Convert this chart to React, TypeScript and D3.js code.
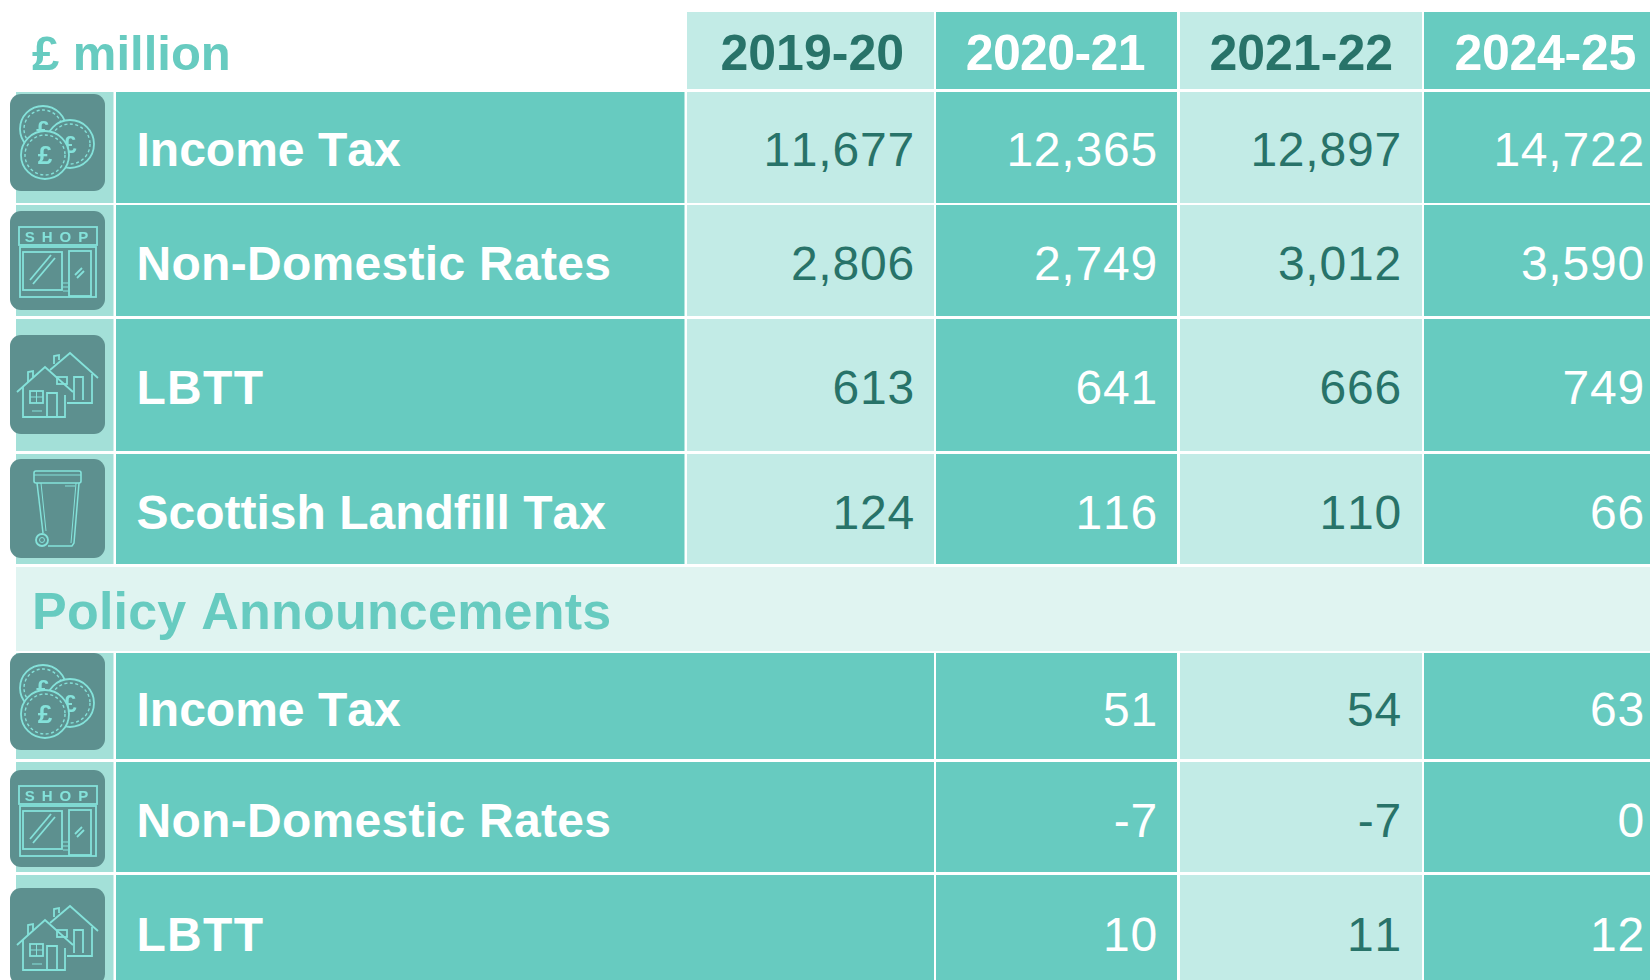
import React, { useEffect, useRef } from 'react'
import * as d3 from 'd3'

const years = ['2019-20', '2020-21', '2021-22', '2024-25']
const unitLabel = '£ million'
const policyTitle = 'Policy Announcements'

const forecastRows = ['Income Tax', 'Non-Domestic Rates', 'LBTT', 'Scottish Landfill Tax']
const forecastIcons = ['coins', 'shop', 'houses', 'bin']
const incomeTax = [11677, 12365, 12897, 14722]
const nonDomesticRates = [2806, 2749, 3012, 3590]
const lbtt = [613, 641, 666, 749]
const landfillTax = [124, 116, 110, 66]

const policyRows = ['Income Tax', 'Non-Domestic Rates', 'LBTT']
const policyIcons = ['coins', 'shop', 'houses']
const policyIncomeTax = [null, 51, 54, 63]
const policyNonDomesticRates = [null, -7, -7, 0]
const policyLbtt = [null, 10, 11, 12]

const forecastValues = [incomeTax, nonDomesticRates, lbtt, landfillTax]
const policyValues = [policyIncomeTax, policyNonDomesticRates, policyLbtt]

// layout, the table is not evenly spaced so the scales are ordinal
const rowKeys = ['f0', 'f1', 'f2', 'f3', 'p0', 'p1', 'p2']
const rowTop = d3.scaleOrdinal<string, number>().domain(rowKeys).range([92, 205, 319, 454, 653, 762, 875])
const rowBottom = d3.scaleOrdinal<string, number>().domain(rowKeys).range([203, 316, 451, 564, 759, 872, 985])
const rowBaseline = d3.scaleOrdinal<string, number>().domain(rowKeys).range([166, 280, 404, 529, 726, 837, 951])
const iconTop = d3.scaleOrdinal<string, number>().domain(rowKeys).range([94, 211, 335, 459, 653, 770, 888])
const iconHeight = d3.scaleOrdinal<string, number>().domain(rowKeys).range([97, 99, 99, 99, 97, 97, 97])

const colLeft = d3.scaleOrdinal<string, number>().domain(years).range([687, 936, 1180, 1424])
const colRight = d3.scaleOrdinal<string, number>().domain(years).range([934, 1177, 1422, 1650])
const colValueEnd = d3.scaleOrdinal<string, number>().domain(years).range([915, 1158, 1402, 1645])
const colHeadEnd = d3.scaleOrdinal<string, number>().domain(years).range([904, 1145, 1393, 1636])
const headSpacing = d3.scaleOrdinal<string, number>().domain(years).range([0, -0.6, 0, -0.3])

// the original's text is a touch looser than Liberation's metrics
const labelSpacing = d3.scaleOrdinal<string, number>().domain(forecastRows).range([0, 0.3, 1.3, 0])

const MAIN = '#67cbc0'
const LIGHT = '#c2ebe6'
const PALE = '#e0f4f1'
const ICON_COL = '#a3e0d8'
const ICON_BOX = '#5d908f'
const ICON_LINE = '#84e2da'
const DARK = '#287369'
const FONT = '"Liberation Sans", Arial, sans-serif'

const colFill = (i: number) => (i % 2 === 0 ? LIGHT : MAIN)
const colText = (i: number) => (i % 2 === 0 ? DARK : '#ffffff')
// table uses a plain hyphen for negatives
const fmt = d3.formatLocale({ decimal: '.', thousands: ',', grouping: [3], currency: ['£', ''], minus: '-' }).format(',')

function drawCoin(g, cx, cy, r, size) {
	g.append('circle').attr('cx', cx).attr('cy', cy).attr('r', r)
		.attr('fill', ICON_BOX).attr('stroke', ICON_LINE).attr('stroke-width', 1.8)
	g.append('circle').attr('cx', cx).attr('cy', cy).attr('r', r - 4)
		.attr('fill', 'none').attr('stroke', ICON_LINE).attr('stroke-width', 1.4).attr('stroke-dasharray', '3 2.5')
	g.append('text').attr('x', cx).attr('y', cy + size * 0.36)
		.attr('text-anchor', 'middle').attr('font-family', FONT).attr('font-weight', 'bold')
		.attr('font-size', size).attr('fill', ICON_LINE).text('£')
}

function drawIcon(g, name) {
	const line = d3.line()
	const path = (pts, w = 1.8) => g.append('path').attr('d', line(pts))
		.attr('fill', 'none').attr('stroke', ICON_LINE).attr('stroke-width', w)
	const box = (x, y, w, h) => g.append('rect').attr('x', x).attr('y', y).attr('width', w).attr('height', h)
		.attr('fill', 'none').attr('stroke', ICON_LINE).attr('stroke-width', 1.8)

	if (name === 'coins') {
		drawCoin(g, 33, 35, 23, 24)
		drawCoin(g, 60, 50, 24, 24)
		drawCoin(g, 35, 61, 24, 26)
	}
	if (name === 'shop') {
		box(9, 16, 78, 18)
		g.append('text').attr('x', 50).attr('y', 31).attr('text-anchor', 'middle')
			.attr('font-family', FONT).attr('font-weight', 'bold').attr('font-size', 15).attr('letter-spacing', 7)
			.attr('fill', ICON_LINE).text('SHOP')
		box(10, 36, 76, 50)
		box(13, 41, 39, 38)
		box(59, 40, 22, 45)
		path([[20, 69], [41, 44]])
		path([[23, 73], [45, 47]])
		path([[65, 64], [72, 57]])
		path([[67, 67], [74, 60]])
		path([[53, 72], [58, 72]], 1)
		path([[53, 76], [58, 76]], 1)
		path([[53, 80], [58, 80]], 1)
	}
	if (name === 'houses') {
		path([[40, 35], [60, 18], [88, 43]])
		path([[82, 39], [82, 68], [57, 68]])
		path([[64, 65], [64, 42], [73, 42], [73, 65]])
		path([[44, 29], [44, 21], [49, 20], [49, 25]])
		box(47, 42, 10, 7)
		path([[7, 57], [35, 32], [63, 57]])
		path([[13, 52], [13, 82], [55, 82], [55, 60]])
		box(20, 56, 13, 12)
		path([[26.5, 56], [26.5, 68]], 1)
		path([[20, 62], [33, 62]], 1)
		path([[37, 82], [37, 58], [47, 58], [47, 82]])
		path([[18, 47], [18, 37], [23, 36], [23, 42]])
		path([[22, 76], [32, 76]], 1)
	}
	if (name === 'bin') {
		g.append('rect').attr('x', 24).attr('y', 12).attr('width', 47).attr('height', 12).attr('rx', 2)
			.attr('fill', 'none').attr('stroke', ICON_LINE).attr('stroke-width', 1.6)
		path([[24, 16], [71, 16]], 1.2)
		path([[27, 24], [33, 74]], 1.5)
		path([[69, 24], [64, 84], [62, 87], [38, 87]], 1.5)
		path([[31, 24], [36, 72]], 1)
		path([[66, 24], [61, 84]], 1)
		path([[55, 27], [65, 27]], 1)
		g.append('circle').attr('cx', 32).attr('cy', 81).attr('r', 6)
			.attr('fill', 'none').attr('stroke', ICON_LINE).attr('stroke-width', 1.8)
		g.append('circle').attr('cx', 32).attr('cy', 81).attr('r', 2.5)
			.attr('fill', 'none').attr('stroke', ICON_LINE).attr('stroke-width', 1)
	}
}

export default function App() {
	const ref = useRef<SVGSVGElement>(null)

	useEffect(() => {
		const svg = d3.select(ref.current)
		svg.selectAll('*').remove()

		// icons in the original are soft, slightly upscaled images
		svg.append('defs').append('filter').attr('id', 'soft')
			.append('feGaussianBlur').attr('stdDeviation', 0.45)

		const rect = (x0, y0, x1, y1, fill) => svg.append('rect')
			.attr('x', x0).attr('y', y0).attr('width', x1 - x0).attr('height', y1 - y0).attr('fill', fill)
		const text = (x, y, str, fill, weight, anchor = 'start', size = 48, spacing = 0) => svg.append('text')
			.attr('x', x).attr('y', y).attr('fill', fill).attr('font-family', FONT)
			.attr('font-size', size).attr('font-weight', weight).attr('text-anchor', anchor)
			.attr('letter-spacing', spacing)
			.style('font-kerning', 'none').text(str)

		// header
		text(32, 70, unitLabel, MAIN, 'bold', 'start', 49)
		years.forEach((y, i) => {
			rect(colLeft(y), 12, colRight(y), 89, colFill(i))
			text(colHeadEnd(y), 70, y, colText(i), 'bold', 'end', 50, headSpacing(y))
		})

		// section band
		rect(16, 567, 1650, 651, PALE)
		text(32, 629, policyTitle, MAIN, 'bold', 'start', 52, 0.22)

		const drawRow = (key, label, icon, values, labelRight) => {
			const top = rowTop(key)
			const bottom = rowBottom(key)
			rect(16, top, 113.5, bottom, ICON_COL)
			rect(116, top, labelRight, bottom, MAIN)
			text(136.5, rowBaseline(key), label, '#ffffff', 'bold', 'start', 48, labelSpacing(label))

			years.forEach((y, i) => {
				if (values[i] === null) return
				rect(colLeft(y), top, colRight(y), bottom, colFill(i))
				text(colValueEnd(y), rowBaseline(key), fmt(values[i]), colText(i), 'normal', 'end', 48, 0.8)
			})

			const g = svg.append('g').attr('transform', `translate(10, ${iconTop(key)})`)
			g.append('rect').attr('width', 95).attr('height', iconHeight(key)).attr('rx', 11).attr('fill', ICON_BOX)
			drawIcon(g.append('g').attr('filter', 'url(#soft)'), icon)
		}

		forecastRows.forEach((r, i) => drawRow(`f${i}`, r, forecastIcons[i], forecastValues[i], 684.5))
		policyRows.forEach((r, i) => drawRow(`p${i}`, r, policyIcons[i], policyValues[i], 934))
	}, [])

	return (
		<svg ref={ref} width={1650} height={980}
			style={{ position: 'absolute', left: 0, top: 0, display: 'block' }}></svg>
	)
}
